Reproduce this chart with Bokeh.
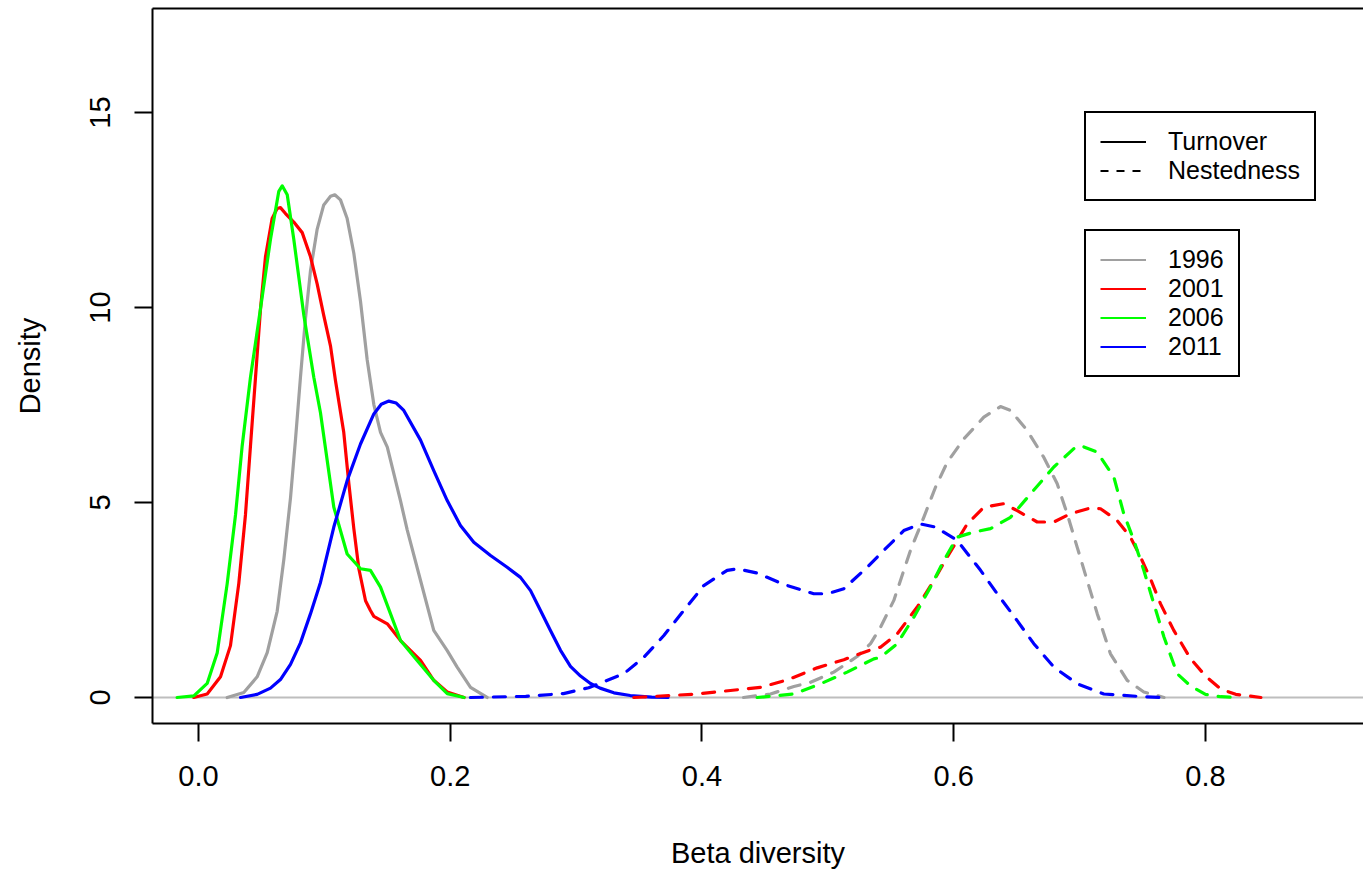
import numpy as np
from bokeh.plotting import figure
from bokeh.models import (Range1d, FixedTicker, LinearAxis, Span, Legend, LegendItem)
from bokeh.embed import file_html
from bokeh.resources import INLINE

# ---------------- data ----------------
x_ticks = [0.0, 0.2, 0.4, 0.6, 0.8]
x_tick_labels = ["0.0", "0.2", "0.4", "0.6", "0.8"]
y_ticks = [0, 5, 10, 15]
y_tick_labels = ["0", "5", "10", "15"]

years = ["1996", "2001", "2006", "2011"]
year_colors = ["#A0A0A0", "#FF0000", "#00FF00", "#0000FF"]
components = ["Turnover", "Nestedness"]
x_title = "Beta diversity"
y_title = "Density"

# Turnover (solid)
t1996_x = [0.0228, 0.036, 0.0466, 0.0546, 0.0625, 0.0678, 0.0731, 0.0771, 0.0810, 0.0850, 0.0890,
           0.0943, 0.0995, 0.1049, 0.1083, 0.1128, 0.1181, 0.1234, 0.1287, 0.134, 0.1393, 0.1446,
           0.15, 0.1605, 0.1658, 0.1764, 0.1869, 0.1976, 0.2055, 0.2161, 0.2293]
t1996_y = [0.0, 0.13, 0.53, 1.15, 2.21, 3.54, 5.12, 6.63, 8.21, 9.72, 10.95,
           12.01, 12.63, 12.85, 12.89, 12.76, 12.28, 11.39, 10.16, 8.66, 7.51, 6.80,
           6.42, 5.04, 4.3, 3.0, 1.72, 1.2, 0.78, 0.26, 0.0]

t2001_x = [-0.0037, 0.0069, 0.0175, 0.0254, 0.0320, 0.0373, 0.0413, 0.0453, 0.0493, 0.0532, 0.0585,
           0.0625, 0.0651, 0.0691, 0.0757, 0.0824, 0.0890, 0.0943, 0.0995, 0.1049, 0.1088, 0.1154,
           0.1194, 0.1234, 0.1274, 0.1327, 0.1366, 0.1393, 0.15, 0.1605, 0.1764, 0.1869, 0.1976, 0.211]
t2001_y = [0.0, 0.09, 0.53, 1.33, 2.92, 4.68, 6.45, 8.21, 9.98, 11.30, 12.28,
           12.54, 12.56, 12.41, 12.19, 11.92, 11.30, 10.60, 9.80, 9.01, 8.13, 6.8,
           5.5, 4.33, 3.3, 2.48, 2.23, 2.08, 1.89, 1.46, 0.95, 0.44, 0.14, 0.0]

t2006_x = [-0.017, -0.0037, 0.0069, 0.0149, 0.0228, 0.0294, 0.0347, 0.0413, 0.0493, 0.0572, 0.0638,
           0.0665, 0.0705, 0.0757, 0.0837, 0.0916, 0.0969, 0.1075, 0.1181, 0.1287, 0.1366, 0.1446,
           0.1525, 0.1605, 0.1737, 0.1869, 0.1976, 0.211]
t2006_y = [0.0, 0.04, 0.36, 1.15, 2.92, 4.68, 6.45, 8.21, 9.98, 11.75, 12.98,
           13.12, 12.89, 11.75, 9.8, 8.21, 7.3, 4.88, 3.68, 3.3, 3.26, 2.83,
           2.15, 1.46, 0.95, 0.44, 0.1, 0.0]

t2011_x = [0.0334, 0.0466, 0.0572, 0.0651, 0.0731, 0.081, 0.089, 0.0969, 0.1075, 0.1181, 0.1287,
           0.1393, 0.1452, 0.1512, 0.1571, 0.1631, 0.1764, 0.1869, 0.1976, 0.2081, 0.2187, 0.232,
           0.2452, 0.2558, 0.2638, 0.2717, 0.2796, 0.2876, 0.2955, 0.3035, 0.3114, 0.319, 0.33,
           0.343, 0.36, 0.373]
t2011_y = [0.0, 0.08, 0.24, 0.46, 0.85, 1.4, 2.15, 2.95, 4.37, 5.56, 6.5,
           7.27, 7.52, 7.6, 7.55, 7.36, 6.6, 5.82, 5.05, 4.41, 3.98, 3.64,
           3.34, 3.08, 2.74, 2.23, 1.72, 1.21, 0.8, 0.55, 0.36, 0.24, 0.12,
           0.05, 0.01, 0.0]

# Nestedness (dashed)
n1996_x = [0.433, 0.4544, 0.473, 0.4862, 0.5047, 0.5232, 0.5339, 0.5418, 0.5524, 0.5656, 0.5762,
           0.5855, 0.5948, 0.608, 0.6239, 0.6371, 0.6451, 0.6583, 0.6715, 0.6822, 0.6901, 0.6981,
           0.706, 0.714, 0.7245, 0.7378, 0.751, 0.767]
n1996_y = [0.0, 0.09, 0.28, 0.39, 0.65, 1.05, 1.38, 1.8, 2.49, 3.77, 4.62,
           5.39, 6.03, 6.63, 7.19, 7.46, 7.36, 6.85, 6.16, 5.48, 4.71, 3.85,
           3.0, 2.15, 1.12, 0.44, 0.14, 0.0]

n2001_x = [0.3458, 0.375, 0.3962, 0.4226, 0.4465, 0.4677, 0.4915, 0.5127, 0.5339, 0.5418, 0.5551,
           0.571, 0.5842, 0.5948, 0.6107, 0.6239, 0.6398, 0.6504, 0.6663, 0.6795, 0.6927, 0.7086,
           0.7166, 0.7298, 0.7404, 0.7484, 0.7563, 0.7643, 0.7748, 0.788, 0.8, 0.812, 0.824, 0.844]
n2001_y = [0.0, 0.05, 0.09, 0.18, 0.26, 0.45, 0.76, 0.97, 1.22, 1.29, 1.63,
           2.32, 3.0, 3.6, 4.45, 4.88, 4.97, 4.79, 4.5, 4.5, 4.71, 4.86,
           4.84, 4.54, 4.11, 3.6, 3.04, 2.4, 1.72, 1.0, 0.55, 0.22, 0.08, 0.0]

n2006_x = [0.4438, 0.473, 0.4941, 0.5153, 0.5365, 0.5418, 0.5551, 0.5683, 0.5815, 0.5921, 0.6027,
           0.6159, 0.6292, 0.6451, 0.661, 0.6795, 0.6954, 0.7007, 0.714, 0.7272, 0.7351, 0.7431,
           0.751, 0.759, 0.767, 0.7775, 0.788, 0.8, 0.812, 0.828]
n2006_y = [0.0, 0.09, 0.35, 0.65, 0.99, 1.03, 1.38, 2.06, 2.83, 3.51, 4.11,
           4.24, 4.33, 4.62, 5.22, 5.91, 6.38, 6.46, 6.29, 5.65, 4.71, 4.03,
           3.26, 2.4, 1.55, 0.61, 0.3, 0.08, 0.02, 0.0]

n2011_x = [0.216, 0.26, 0.29, 0.31, 0.3379, 0.3538, 0.3697, 0.3855, 0.4014, 0.42, 0.428,
           0.4438, 0.465, 0.4888, 0.4995, 0.5127, 0.5312, 0.5444, 0.5603, 0.5736, 0.5855, 0.6027,
           0.6213, 0.6345, 0.6504, 0.6636, 0.6795, 0.6981, 0.7192, 0.7457, 0.764]
n2011_y = [0.0, 0.03, 0.1, 0.25, 0.61, 1.03, 1.59, 2.23, 2.87, 3.26, 3.3,
           3.19, 2.9, 2.66, 2.66, 2.79, 3.34, 3.77, 4.28, 4.45, 4.37, 4.03,
           3.26, 2.66, 1.97, 1.38, 0.78, 0.35, 0.09, 0.03, 0.0]

turnover = [(t1996_x, t1996_y), (t2001_x, t2001_y), (t2006_x, t2006_y), (t2011_x, t2011_y)]
nestedness = [(n1996_x, n1996_y), (n2001_x, n2001_y), (n2006_x, n2006_y), (n2011_x, n2011_y)]

# ---------------- figure ----------------
FONT = "Liberation Sans"
W, H = 1363, 873

p = figure(width=W, height=H, output_backend="svg", toolbar_location=None,
           x_range=Range1d(-0.03654, 0.92552), y_range=Range1d(-0.667, 17.667),
           title=None,
           min_border_left=152, min_border_right=0, min_border_top=8, min_border_bottom=150)
p.outline_line_color = None
p.grid.visible = False
p.background_fill_color = "white"
p.border_fill_color = "white"

xa = p.xaxis[0]
xa.ticker = FixedTicker(ticks=x_ticks)
xa.major_label_overrides = {t: l for t, l in zip(x_ticks, x_tick_labels)}
xa.axis_label = x_title
ya = p.yaxis[0]
ya.ticker = FixedTicker(ticks=y_ticks)
ya.major_label_overrides = {t: l for t, l in zip(y_ticks, y_tick_labels)}
ya.major_label_orientation = "vertical"
ya.axis_label = y_title

for ax in (xa, ya):
    ax.axis_line_width = 2
    ax.axis_line_color = "black"
    ax.major_tick_line_width = 2
    ax.major_tick_out = 18
    ax.major_tick_in = 0
    ax.minor_tick_line_color = None
    ax.major_label_text_font = FONT
    ax.major_label_text_font_size = "29px"
    ax.major_label_text_color = "black"
    ax.axis_label_text_font = FONT
    ax.axis_label_text_font_size = "29px"
    ax.axis_label_text_font_style = "normal"
    ax.axis_label_text_color = "black"
xa.major_label_standoff = 24
xa.axis_label_standoff = 48
ya.major_label_standoff = 24
ya.axis_label_standoff = 42

top_axis = LinearAxis(ticker=FixedTicker(ticks=[]), major_tick_out=0, major_tick_in=0,
                      minor_tick_line_color=None, major_label_text_font_size="0px",
                      axis_line_width=2, axis_line_color="black")
p.add_layout(top_axis, "above")

zero = Span(location=0, dimension="width", line_color="#BEBEBE", line_width=2, level="underlay")
p.add_layout(zero)

for (xs, ys), c in zip(turnover, year_colors):
    p.line(xs, ys, line_color=c, line_width=3.2, line_cap="round", line_join="round")
for (xs, ys), c in zip(nestedness, year_colors):
    p.line(xs, ys, line_color=c, line_width=3.2, line_dash="12 11", line_cap="round", line_join="round")

# legend proxies (a single NaN point: nothing drawn in the plot area)
nan = np.array([np.nan])
r_turn = p.line(nan, nan, line_color="black", line_width=2)
r_nest = p.line(nan, nan, line_color="black", line_width=2, line_dash="8 8")
year_proxies = [p.line(nan, nan, line_color=c, line_width=2) for c in year_colors]


def make_legend(items, loc):
    return Legend(items=items, location=loc, orientation="vertical",
                  label_text_font=FONT, label_text_font_size="25px", label_text_color="black",
                  glyph_width=46, glyph_height=29, label_height=29, label_standoff=22,
                  padding=14, spacing=0, margin=0,
                  border_line_color="black", border_line_width=2, border_line_alpha=1.0,
                  background_fill_color="white", background_fill_alpha=1.0)


leg1 = make_legend([LegendItem(label=components[0], renderers=[r_turn]),
                    LegendItem(label=components[1], renderers=[r_nest])], (932, 522))
leg2 = make_legend([LegendItem(label=y, renderers=[r]) for y, r in zip(years, year_proxies)], (932, 346))
p.add_layout(leg1)
p.add_layout(leg2)

open("out.html", "w").write(file_html(p, INLINE))
